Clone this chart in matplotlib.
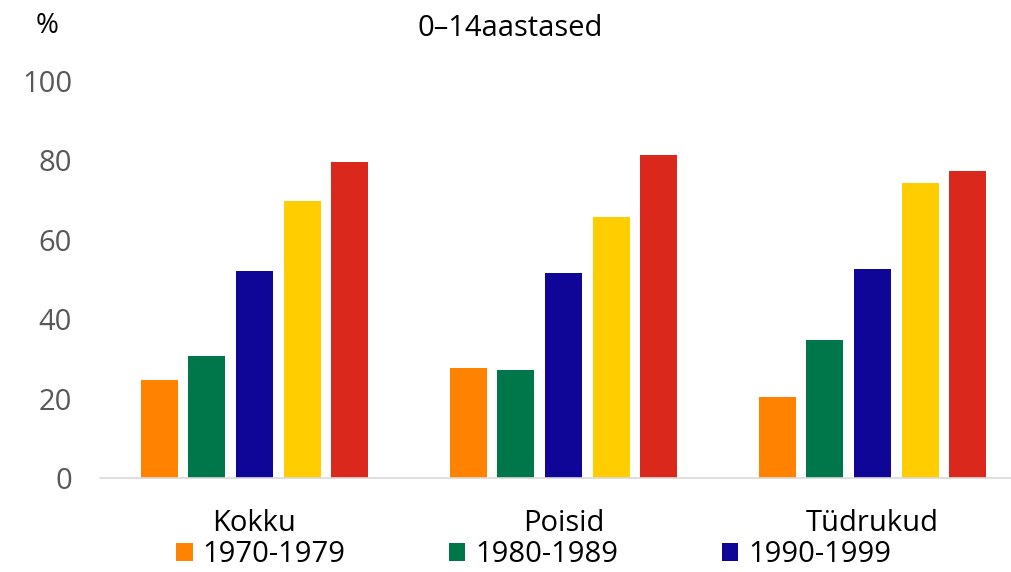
import numpy as np
import matplotlib
matplotlib.use("Agg")
import matplotlib.pyplot as plt

# dados
categorias = ["Kokku", "Poisid", "Tüdrukud"]
periodos = ["1970-1979", "1980-1989", "1990-1999", "2000-2009", "2010-2019"]
v_1970 = [24.7, 27.6, 20.5]
v_1980 = [30.7, 27.2, 34.8]
v_1990 = [52.1, 51.6, 52.6]
v_2000 = [69.8, 65.7, 74.3]
v_2010 = [79.6, 81.4, 77.3]
series = [v_1970, v_1980, v_1990, v_2000, v_2010]
cores = ["#FF8200", "#00774A", "#0F0697", "#FFCD00", "#DA291C"]

plt.rcParams["font.family"] = ["Open Sans", "DejaVu Sans"]

fig = plt.figure(figsize=(10.12, 5.72), dpi=100)
ax = fig.add_axes([100 / 1012, 1 - 478 / 572, 927 / 1012, 397 / 572])

x = np.arange(len(categorias))
passo = 0.154
largura = 0.12
barras = []
for i, (vals, cor) in enumerate(zip(series, cores)):
    b = ax.bar(x + (i - 2) * passo, vals, largura, color=cor, label=periodos[i])
    barras.append(b)

ax.set_xlim(-0.5, 2.5)
ax.set_ylim(0, 100)
ax.set_yticks(range(0, 101, 20))
ax.set_xticks(x)
ax.set_xticklabels(categorias, fontsize=21, color="black")
ax.tick_params(axis="y", labelsize=21, labelcolor="#595959", length=0, pad=20)
ax.tick_params(axis="x", length=0, pad=22)
for s in ["top", "right", "left"]:
    ax.spines[s].set_visible(False)
ax.spines["bottom"].set_color("#D9D9D9")
ax.spines["bottom"].set_linewidth(1.2)

fig.text(47 / 1012, 1 - 26 / 572, "%", fontsize=20, ha="center", va="center")
fig.text(510 / 1012, 1 - 28 / 572, "0–14aastased", fontsize=21, ha="center", va="center")

fig.legend(barras[:3], periodos[:3], loc="center left",
           bbox_to_anchor=(176 / 1012, 1 - 555 / 572), ncol=3, frameon=False,
           fontsize=21, handlelength=0.57, handleheight=0.57, handletextpad=0.33,
           columnspacing=3.55, borderaxespad=0, borderpad=0)

fig.savefig("out.png", dpi=100)
